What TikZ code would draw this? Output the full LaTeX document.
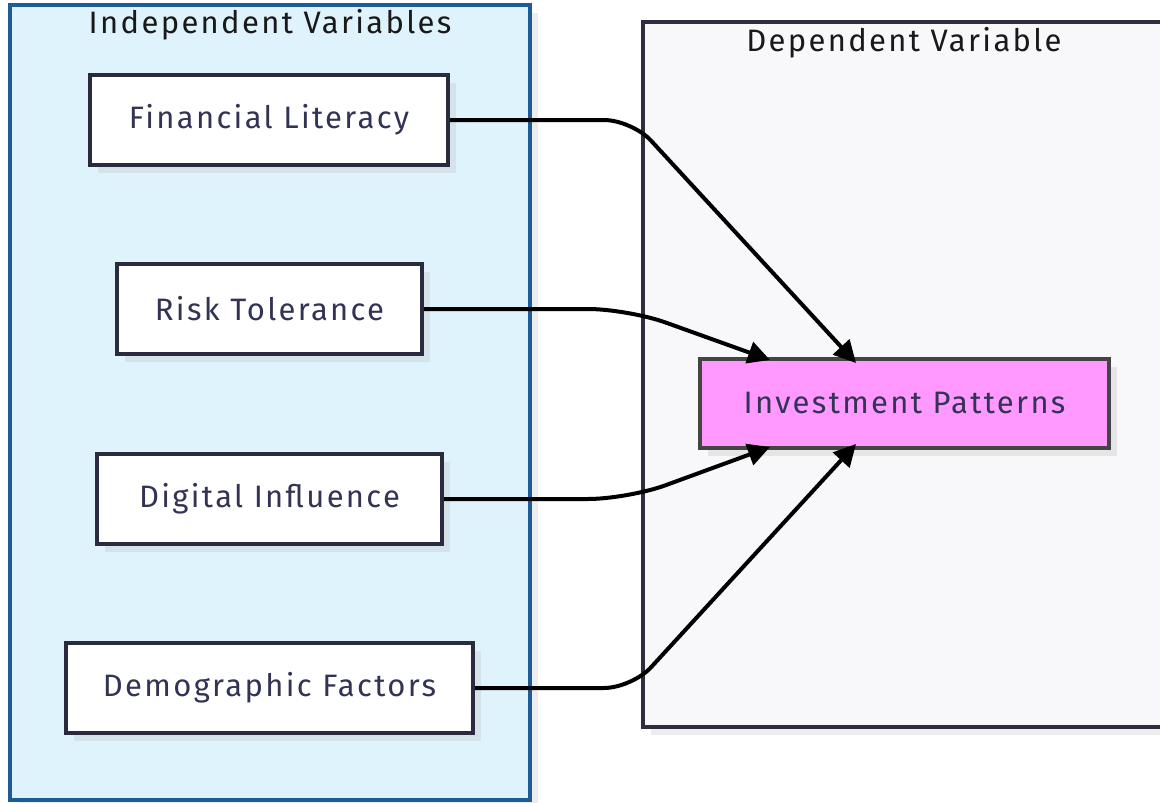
\documentclass[tikz,border=0pt]{standalone}
\usepackage{fontspec}
\setmainfont{Fira Sans}[LetterSpace=7.5]
\usetikzlibrary{arrows.meta,calc}
\definecolor{leftfill}{HTML}{DFF3FC}
\definecolor{leftborder}{HTML}{1D5C97}
\definecolor{rightfill}{HTML}{F8F8FA}
\definecolor{rightborder}{HTML}{2E2E40}
\definecolor{nodeborder}{HTML}{2B2B40}
\definecolor{nodetext}{HTML}{333355}
\definecolor{pinkfill}{HTML}{FF99FF}
\definecolor{pinkborder}{HTML}{444444}
\definecolor{shadowc}{HTML}{D4E2EA}
\tikzset{
  varbox/.style={draw=nodeborder, line width=4pt, fill=white, minimum height=90pt, inner sep=0pt, text=nodetext, font=\fontsize{31}{36}\selectfont},
  outbox/.style={varbox, draw=pinkborder, fill=pinkfill, minimum height=89pt, minimum width=409pt},
  title/.style={font=\fontsize{31}{36}\selectfont, text=black!90},
  link/.style={line width=4pt, black, rounded corners=28pt, -{Triangle[length=22pt,width=22pt]}},
}
\begin{document}
\begin{tikzpicture}[x=1pt,y=-1pt]
\useasboundingbox (0,0) rectangle (1160,803);
\fill[white] (0,0) rectangle (1160,803);
% clusters with shadows
\fill[black!7] (18,13) rectangle (538,808);
\draw[leftborder, line width=4pt, fill=leftfill] (10,5) rectangle (530,800);
\node[title] (lt) at (270,25) {Independent Variables};
\fill[black!7] (651,30) rectangle (1170,735);
\draw[rightborder, line width=4pt, fill=rightfill] (643,22) rectangle (1175,727);
\node[title] (rt) at (904,43) {Dependent Variable};
% node shadows
\fill[shadowc] (98,83) rectangle (456,173);
\fill[shadowc] (125,272) rectangle (430,362);
\fill[shadowc] (105,462) rectangle (450,552);
\fill[shadowc] (74,651) rectangle (481,741);
\fill[black!10] (708,367) rectangle (1117,456);
% nodes
\node[varbox, minimum width=358pt] (fl) at (269,120) {Financial Literacy};
\node[varbox, minimum width=305pt] (rk) at (269.5,309) {Risk Tolerance};
\node[varbox, minimum width=345pt] (di) at (269.5,499) {Digital Influence};
\node[varbox, minimum width=407pt] (df) at (269.5,688) {Demographic Factors};
\node[outbox] (ip) at (904.5,403.5) {Investment Patterns};
% connectors
\coordinate (c1) at (632,120);
\coordinate (c2) at (628,309);
\coordinate (c3) at (628,499);
\coordinate (c4) at (632,688);
\draw[link] (fl.east) -- (c1) -- ([xshift=158pt,yshift=-6pt]ip.north west);
\draw[link, rounded corners=40pt] (rk.east) -- (c2) -- ([xshift=72pt,yshift=-3pt]ip.north west);
\draw[link, rounded corners=40pt] (di.east) -- (c3) -- ([xshift=72pt,yshift=3pt]ip.south west);
\draw[link] (df.east) -- (c4) -- ([xshift=158pt,yshift=6pt]ip.south west);
\end{tikzpicture}
\end{document}
